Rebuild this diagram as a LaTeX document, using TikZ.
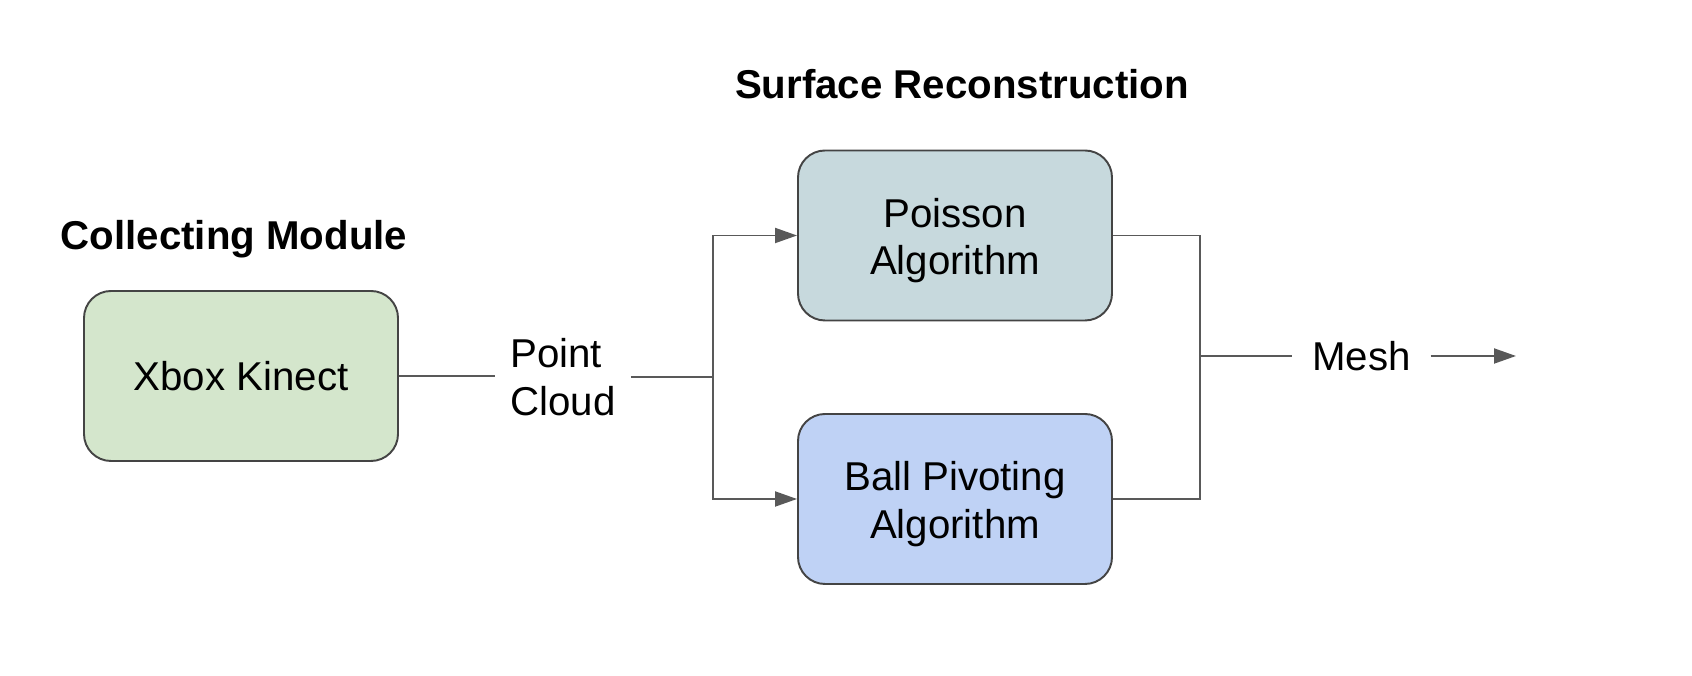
\documentclass[tikz,border=0pt]{standalone}
\usepackage{fontspec}
\setmainfont{Liberation Sans}
\usetikzlibrary{arrows.meta}

\definecolor{kinectgreen}{HTML}{D4E6CC}
\definecolor{poissoncyan}{HTML}{C7D9DD}
\definecolor{pivotblue}{HTML}{BFD2F5}
\definecolor{edgegray}{HTML}{444444}
\definecolor{wiregray}{HTML}{595959}

\begin{document}
\begin{tikzpicture}[
        >={Triangle[length=0.44cm, width=0.3cm]},
        every node/.style={font=\fontsize{22.9}{27.6}\selectfont},
        block/.style={draw=edgegray, line width=1.1pt, rounded corners=0.54cm, minimum width=6.28cm, minimum height=3.4cm, align=center, font=\fontsize{22.9}{26.9}\selectfont},
        heading/.style={font=\fontsize{22.9}{27.6}\selectfont\bfseries},
        wire/.style={draw=wiregray, line width=1.1pt},
    ]
        \useasboundingbox (0, 0) rectangle (33.84, 13.52);

        % Titles
        \node[heading] (collecting) at (4.68, 8.74) {Collecting Module};
        \node[heading] (surface) at (19.24, 11.84) {Surface Reconstruction};

        % Entities
        \node[block, fill=kinectgreen] (kinect) at (4.82, 6.0) {Xbox Kinect};
        \node[block, fill=poissoncyan] (poisson) at (19.1, 8.81) {\raisebox{-0.12cm}[\height][\depth]{\begin{tabular}{@{}c@{}}Poisson\\Algorithm\end{tabular}}};
        \node[block, fill=pivotblue] (ball) at (19.1, 3.54) {\raisebox{-0.12cm}[\height][\depth]{\begin{tabular}{@{}c@{}}Ball Pivoting\\Algorithm\end{tabular}}};

        % Data labels
        \node[align=left, inner xsep=0.3cm] (cloud) at (11.26, 5.98) {Point\\Cloud};
        \node[inner xsep=0.39cm] (mesh) at (27.23, 6.4) {Mesh};

        % Junctions
        \coordinate (split) at (14.26, 5.98);
        \coordinate (merge) at (24.0, 6.4);
        \coordinate (out) at (30.32, 6.4);

        % 1. Point cloud from the sensor to both algorithms
        \draw[wire] (kinect) -- (kinect -| cloud.west);
        \draw[wire] (cloud) -- (split);
        \draw[wire, ->, wiregray] (split) |- (poisson);
        \draw[wire, ->, wiregray] (split) |- (ball);

        % 2. Both results give the mesh
        \draw[wire] (poisson) -| (merge);
        \draw[wire] (ball) -| (merge);
        \draw[wire] (merge) -- (mesh);
        \draw[wire, ->, wiregray] (mesh) -- (out);
    \end{tikzpicture}
\end{document}
